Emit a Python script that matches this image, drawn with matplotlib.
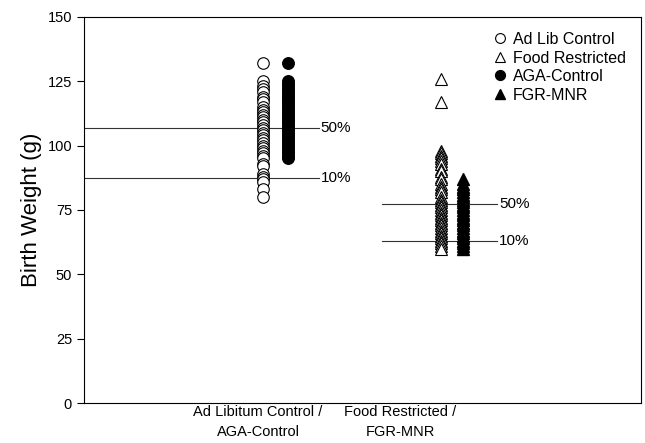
import matplotlib
matplotlib.use("Agg")
import matplotlib.pyplot as plt

matplotlib.rcParams['font.family'] = ['Liberation Sans', 'DejaVu Sans']

# group labels
categories = ['Ad Libitum Control /\nAGA-Control', 'Food Restricted /\nFGR-MNR']

# birth weights (g)
ad_lib = [132, 125, 123, 122, 121, 119, 118, 117, 115, 114, 113, 112, 111, 110,
          109, 108, 107, 106, 105, 104, 103, 102, 101, 100, 99, 98, 97, 96, 95,
          93, 92, 89, 88, 87, 86, 83, 80]
aga = [132, 125, 124, 123, 122, 121, 120, 119, 118, 117, 116, 115, 114, 113,
       112, 111, 110, 109, 108, 107, 106, 105, 104, 103, 102, 101, 100, 99, 98,
       97, 96, 95]
food_restricted = [126, 117, 98, 97, 96, 95, 94, 93, 91, 90, 88, 87, 85, 84, 83,
                   82, 80, 79, 78, 77, 76, 75, 74, 73, 72, 71, 70, 69, 68, 67,
                   66, 65, 64, 63, 62, 61, 60]
fgr_mnr = [87, 85, 84, 83, 82, 81, 80, 79, 78, 77, 76, 75, 74, 73, 72, 71, 70,
           69, 68, 67, 66, 65, 64, 63, 62, 61, 60]

# percentile lines (50%, 10%) per group
pct_labels = ['50%', '10%']
pct_group1 = [107, 87.5]
pct_group2 = [77.5, 63]

fig = plt.figure(figsize=(6.45, 4.43), dpi=100)
ax = fig.add_axes([0.130, 0.090, 0.864, 0.872])

ax.plot([1.285] * len(ad_lib), ad_lib, 'o', ms=8.3, mfc='white', mec='black',
        mew=0.8, linestyle='none', label='Ad Lib Control')
ax.plot([2.565] * len(food_restricted), food_restricted, '^', ms=8.3, mfc='white',
        mec='black', mew=0.8, linestyle='none', label='Food Restricted')
ax.plot([1.465] * len(aga), aga, 'o', ms=8.3, mfc='black', mec='black',
        linestyle='none', label='AGA-Control')
ax.plot([2.72] * len(fgr_mnr), fgr_mnr, '^', ms=8.3, mfc='black', mec='black',
        linestyle='none', label='FGR-MNR')

for lab, v in zip(pct_labels, pct_group1):
    ax.plot([0, 1.69], [v, v], color='#333333', lw=0.8, zorder=0)
    ax.text(1.70, v, lab, va='center', ha='left', fontsize=11)
for lab, v in zip(pct_labels, pct_group2):
    ax.plot([2.14, 2.965], [v, v], color='#333333', lw=0.8, zorder=0)
    ax.text(2.98, v, lab, va='center', ha='left', fontsize=11)

ax.set_xlim(0, 4)
ax.set_ylim(0, 150)
ax.set_yticks([0, 25, 50, 75, 100, 125, 150])
ax.set_xticks([1.25, 2.27])
ax.set_xticklabels(categories, fontsize=10.5, linespacing=1.55)
ax.tick_params(axis='x', length=0, pad=1)
ax.tick_params(axis='y', direction='out', length=5, labelsize=10.5)
ax.set_ylabel('Birth Weight (g)', fontsize=16)

for s in ax.spines.values():
    s.set_linewidth(0.8)

ax.legend(loc='upper right', frameon=False, fontsize=11.5, handletextpad=0.25,
          labelspacing=0.22, borderaxespad=0.55, handlelength=1.1, markerscale=0.85)

fig.savefig('out.png', dpi=100)
